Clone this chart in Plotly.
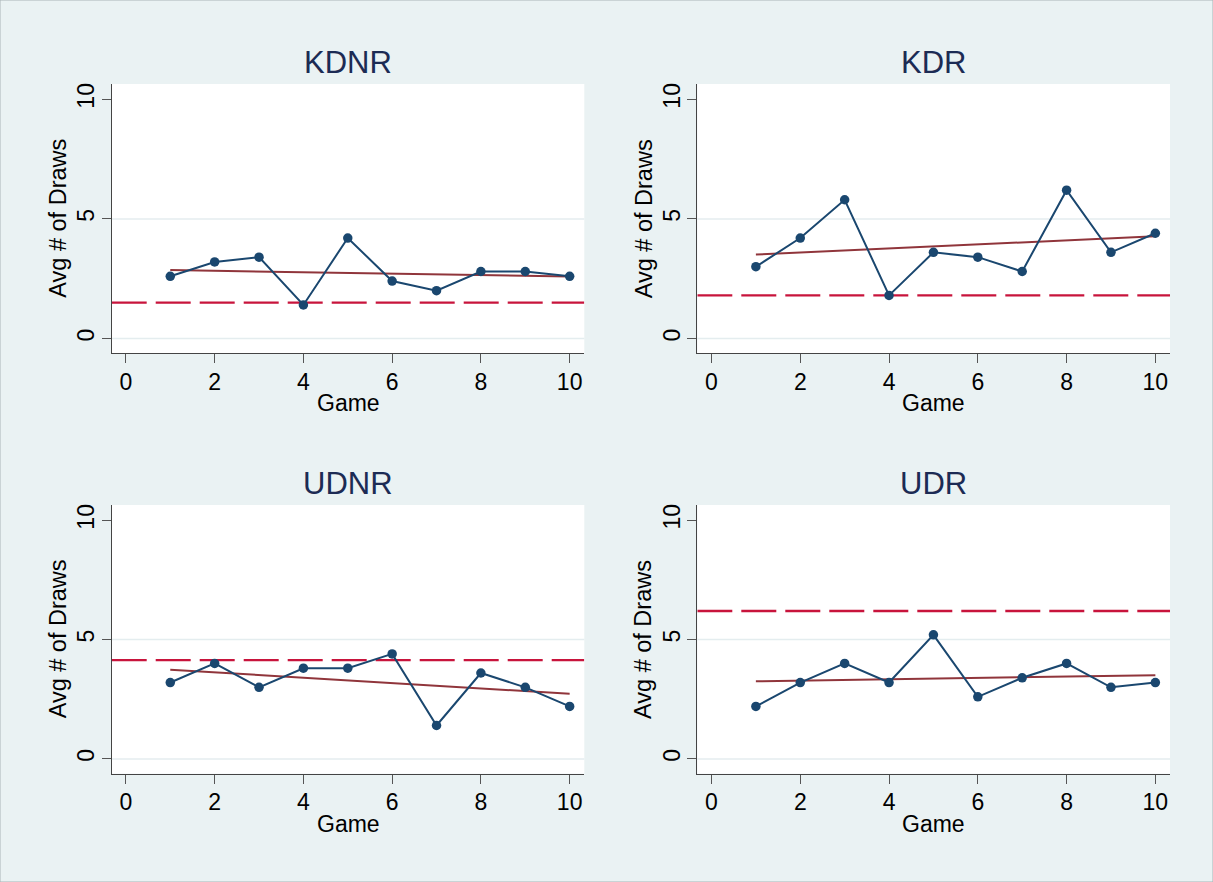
import plotly.graph_objects as go

# Game numbers and average draws per game for each treatment
games = [1, 2, 3, 4, 5, 6, 7, 8, 9, 10]
kdnr = [2.6, 3.2, 3.4, 1.4, 4.2, 2.4, 2.0, 2.8, 2.8, 2.6]
kdr = [3.0, 4.2, 5.8, 1.8, 3.6, 3.4, 2.8, 6.2, 3.6, 4.4]
udnr = [3.2, 4.0, 3.0, 3.8, 3.8, 4.4, 1.4, 3.6, 3.0, 2.2]
udr = [2.2, 3.2, 4.0, 3.2, 5.2, 2.6, 3.4, 4.0, 3.0, 3.2]

panel_names = ["KDNR", "KDR", "UDNR", "UDR"]
panel_series = [kdnr, kdr, udnr, udr]

# Benchmark level (dashed line) per treatment
benchmark = [1.5, 1.8, 4.14, 6.2]

# Linear fit values at the first and last game per treatment
fit_first = [2.86, 3.51, 3.74, 3.25]
fit_last = [2.59, 4.27, 2.73, 3.51]

x_ticks = [0, 2, 4, 6, 8, 10]
y_ticks = [0, 5, 10]
grid_levels = [0, 5]

W, H = 1213, 882
BG = "#EAF2F3"
NAVY = "#1A476F"
MAROON = "#90353B"
RED = "#C8143C"
TITLE_COLOR = "#1C2B54"
FONT = "Liberation Sans, Arial, sans-serif"

# Plot-area boxes in pixels: (left, right, top, bottom)
boxes = [
    (111.7, 584.3, 84.0, 353.3),
    (697.3, 1170.0, 84.0, 353.3),
    (111.7, 584.3, 505.0, 773.7),
    (697.3, 1170.0, 505.0, 773.7),
]

fig = go.Figure()
layout = dict(
    width=W, height=H, autosize=False,
    margin=dict(l=0, r=0, t=0, b=0),
    paper_bgcolor=BG, plot_bgcolor="white",
    showlegend=False,
    font=dict(family=FONT, color="black"),
)
shapes = []
annotations = []

for i, (name, vals) in enumerate(zip(panel_names, panel_series)):
    idx = "" if i == 0 else str(i + 1)
    xa, ya = "x" + idx, "y" + idx
    left, right, top, bottom = boxes[i]

    layout["xaxis" + idx] = dict(
        domain=[left / W, right / W], anchor=ya, range=[-0.32, 10.33],
        tickvals=x_ticks, ticks="outside", ticklen=9, tickwidth=1.2,
        tickcolor="#555555", showline=True, linecolor="#444444", linewidth=1.2,
        showgrid=False, zeroline=False, tickfont=dict(size=23, family=FONT),
        ticklabelstandoff=-1,
    )
    layout["yaxis" + idx] = dict(
        domain=[1 - bottom / H, 1 - top / H], anchor=xa, range=[-0.62, 10.64],
        tickvals=y_ticks, ticks="outside", ticklen=9, tickwidth=1.2,
        tickcolor="#555555", showline=True, linecolor="#444444", linewidth=1.2,
        showgrid=False, zeroline=False, tickangle=-90,
        tickfont=dict(size=23, family=FONT), ticklabelstandoff=-2,
    )

    # horizontal grid lines
    for g in grid_levels:
        shapes.append(dict(
            type="line", xref=xa + " domain", yref=ya, x0=0, x1=1, y0=g, y1=g,
            line=dict(color="#E4EDEF", width=1.5), layer="below",
        ))

    # benchmark (dashed)
    fig.add_trace(go.Scatter(
        x=[-0.32, 10.33], y=[benchmark[i], benchmark[i]], xaxis=xa, yaxis=ya,
        mode="lines", line=dict(color=RED, width=2.4, dash="35px,9px"),
        hoverinfo="skip",
    ))
    # linear fit
    fig.add_trace(go.Scatter(
        x=[games[0], games[-1]], y=[fit_first[i], fit_last[i]], xaxis=xa, yaxis=ya,
        mode="lines", line=dict(color=MAROON, width=2),
    ))
    # observed averages
    fig.add_trace(go.Scatter(
        x=games, y=vals, xaxis=xa, yaxis=ya, mode="lines+markers",
        line=dict(color=NAVY, width=2), marker=dict(color=NAVY, size=9.5),
    ))

    cx = (left + right) / 2
    annotations.append(dict(
        text=name, xref="paper", yref="paper", x=cx / W, y=1 - (top - 22) / H,
        xanchor="center", yanchor="middle", showarrow=False,
        font=dict(size=31, color=TITLE_COLOR, family=FONT),
    ))
    annotations.append(dict(
        text="Game", xref="paper", yref="paper", x=cx / W, y=1 - (bottom + 50) / H,
        xanchor="center", yanchor="middle", showarrow=False,
        font=dict(size=23, color="black", family=FONT),
    ))
    annotations.append(dict(
        text="Avg # of Draws", xref="paper", yref="paper",
        x=(left - 53.7) / W, y=1 - ((top + bottom) / 2) / H,
        xanchor="center", yanchor="middle", textangle=-90, showarrow=False,
        font=dict(size=23.5, color="black", family=FONT),
    ))

# thin frame around the whole graph
shapes.append(dict(
    type="rect", xref="paper", yref="paper", x0=0, x1=1, y0=0, y1=1,
    line=dict(color="#A9B4B7", width=1), layer="below",
))

layout["shapes"] = shapes
layout["annotations"] = annotations
fig.update_layout(**layout)

fig.write_html("out.html")
